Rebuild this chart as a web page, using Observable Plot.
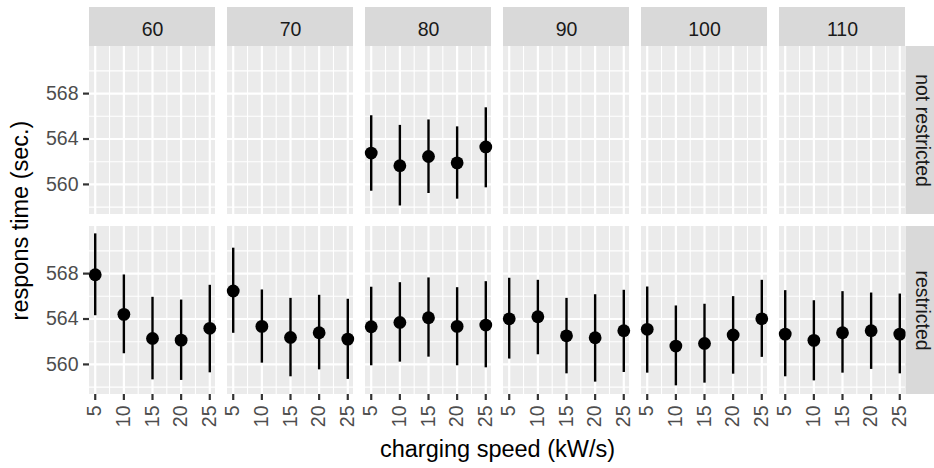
<!DOCTYPE html>
<html>
<head>
<meta charset="utf-8">
<script src="https://cdn.jsdelivr.net/npm/d3@7"></script>
<script src="https://cdn.jsdelivr.net/npm/@observablehq/plot@0.6"></script>
<style>
  html, body { margin: 0; padding: 0; background: #ffffff; }
  #chart svg { display: block; }
</style>
</head>
<body>
<div id="chart"></div>
<script>
// ---- data ----
const limits = [60, 70, 80, 90, 100, 110];
const speeds = [5, 10, 15, 20, 25];
const restrictions = ["not restricted", "restricted"];

// "not restricted": only speed limit 80 has observations
const freeLimit = 80;
const freeMean = [562.76, 561.65, 562.46, 561.90, 563.30];
const freeLow  = [559.40, 558.10, 559.20, 558.70, 559.70];
const freeHigh = [566.05, 565.20, 565.68, 565.07, 566.75];

// "restricted": one row per speed limit (60 ... 110), one column per charging speed
const restrictedMean = [
  [567.90, 564.41, 562.29, 562.14, 563.18],
  [566.47, 563.35, 562.38, 562.79, 562.23],
  [563.32, 563.70, 564.11, 563.35, 563.47],
  [564.02, 564.20, 562.52, 562.35, 562.97],
  [563.09, 561.62, 561.85, 562.59, 564.02],
  [562.67, 562.12, 562.79, 562.97, 562.67]
];
const restrictedLow = [
  [564.29, 560.94, 558.64, 558.59, 559.26],
  [562.74, 560.11, 558.91, 559.52, 558.68],
  [559.88, 560.20, 560.64, 559.88, 559.70],
  [560.47, 560.85, 559.17, 558.44, 559.29],
  [559.23, 558.11, 558.35, 559.14, 560.62],
  [558.91, 558.55, 559.23, 559.56, 559.17]
];
const restrictedHigh = [
  [571.50, 567.88, 565.91, 565.67, 566.97],
  [570.24, 566.56, 565.82, 566.09, 565.74],
  [566.80, 567.20, 567.62, 566.76, 567.29],
  [567.59, 567.41, 565.82, 566.14, 566.53],
  [566.82, 565.15, 565.30, 565.97, 567.41],
  [566.50, 565.61, 566.41, 566.29, 566.20]
];

const xTicks = [5, 10, 15, 20, 25];
const xMinor = [7.5, 12.5, 17.5, 22.5];
const yTicks = [560, 564, 568];
const yMinor = [558, 562, 566, 570];

// ---- tidy table built from the arrays ----
const rows = [];
speeds.forEach((s, j) => rows.push({limit: freeLimit, restriction: "not restricted", speed: s,
  mean: freeMean[j], lo: freeLow[j], hi: freeHigh[j]}));
limits.forEach((l, i) => speeds.forEach((s, j) => rows.push({limit: l, restriction: "restricted", speed: s,
  mean: restrictedMean[i][j], lo: restrictedLow[i][j], hi: restrictedHigh[i][j]})));

const cells = restrictions.flatMap(r => limits.map(l => ({limit: l, restriction: r})));
const topStrips = limits.map(l => ({limit: l, restriction: restrictions[0]}));
const sideStrips = restrictions.map(r => ({limit: limits[limits.length - 1], restriction: r}));

const FONT = "'Liberation Sans', Arial, Helvetica, sans-serif";
const panelW = 126.5, panelH = 168, stripH = 39, sideW = 30;

const chart = Plot.plot({
  width: 934,
  height: 468,
  marginLeft: 88,
  marginRight: 27.7,
  marginTop: 46,
  marginBottom: 74,
  style: {fontFamily: FONT, background: "#ffffff", overflow: "visible"},
  fx: {domain: limits, paddingInner: 0.0834, paddingOuter: 0, axis: null},
  fy: {domain: restrictions, paddingInner: 0.0667, paddingOuter: 0, axis: null},
  x: {domain: [4, 26]},
  y: {domain: [557.35, 572.15]},
  marks: [
    // panel backgrounds
    Plot.rect(cells, {fx: "limit", fy: "restriction", fill: "#ebebeb"}),
    // minor grid
    Plot.gridX(xMinor, {stroke: "#ffffff", strokeOpacity: 1, strokeWidth: 1.1}),
    Plot.gridY(yMinor, {stroke: "#ffffff", strokeOpacity: 1, strokeWidth: 1.1}),
    // major grid
    Plot.gridX(xTicks, {stroke: "#ffffff", strokeOpacity: 1, strokeWidth: 2.2}),
    Plot.gridY(yTicks, {stroke: "#ffffff", strokeOpacity: 1, strokeWidth: 2.2}),
    // error bars and points
    Plot.ruleX(rows, {fx: "limit", fy: "restriction", x: "speed", y1: "lo", y2: "hi", stroke: "#000000", strokeWidth: 2.4}),
    Plot.dot(rows, {fx: "limit", fy: "restriction", x: "speed", y: "mean", r: 6.4, fill: "#000000", stroke: "none"}),
    // strips
    Plot.rect(topStrips, {fx: "limit", fy: "restriction", fill: "#d9d9d9",
      insetTop: -stripH, insetBottom: panelH}),
    Plot.text(topStrips, {fx: "limit", fy: "restriction", text: d => String(d.limit),
      frameAnchor: "top", dy: -17.2, textAnchor: "middle", lineAnchor: "middle", fontSize: 19.5, fill: "#1a1a1a"}),
    Plot.rect(sideStrips, {fx: "limit", fy: "restriction", fill: "#d9d9d9",
      insetLeft: panelW, insetRight: -sideW}),
    Plot.text(sideStrips, {fx: "limit", fy: "restriction", text: "restriction",
      frameAnchor: "right", dx: 17, rotate: 90, textAnchor: "middle", lineAnchor: "middle", fontSize: 19.5, fill: "#1a1a1a"}),
    // axes
    Plot.axisX({ticks: xTicks, tickFormat: d => String(d), tickRotate: -90, tickSize: 6, tickPadding: 5,
      fontSize: 19.5, stroke: "#333333", strokeWidth: 2.2, fill: "#4d4d4d", label: null}),
    Plot.axisY({ticks: yTicks, tickFormat: d => String(d), tickSize: 6, tickPadding: 5,
      fontSize: 19.5, stroke: "#333333", strokeWidth: 2.2, fill: "#4d4d4d", label: null}),
    Plot.axisX({ticks: [], tickSize: 0, label: "charging speed (kW/s)", labelAnchor: "center",
      labelArrow: "none", labelOffset: 62.5, fontSize: 23.5, fill: "#000000"}),
    Plot.axisY({ticks: [], tickSize: 0, label: "respons time (sec.)", labelAnchor: "center",
      labelArrow: "none", labelOffset: 78, fontSize: 23.5, fill: "#000000"})
  ]
});
document.getElementById("chart").appendChild(chart);
</script>
</body>
</html>
